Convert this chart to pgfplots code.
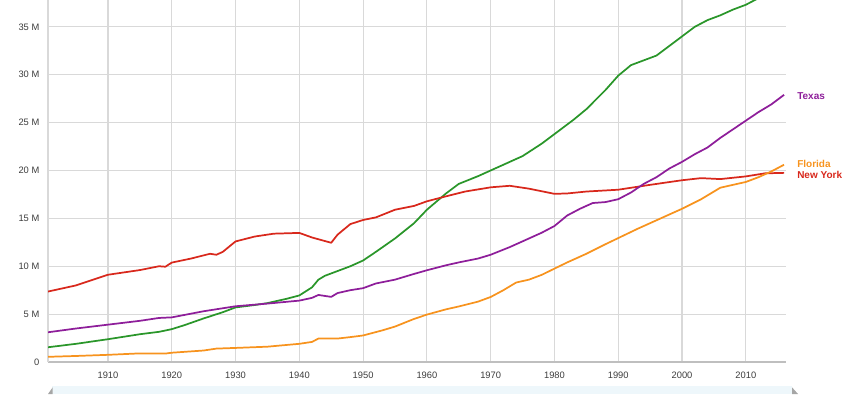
\documentclass[border=0pt]{standalone}
\usepackage{fontspec}
\setmainfont{Liberation Sans}
\usepackage{pgfplots}
\pgfplotsset{compat=1.18}
\definecolor{cagreen}{HTML}{2A962A}
\definecolor{nyred}{HTML}{D8281C}
\definecolor{txpurple}{HTML}{8E1E9A}
\definecolor{florange}{HTML}{F7931E}
\definecolor{gridgray}{HTML}{D9D9D9}
\definecolor{ticktext}{HTML}{3C3C3C}
\begin{document}
\begin{tikzpicture}
\path[use as bounding box] (-36pt,-24pt) rectangle (609pt,271.5pt);
\begin{axis}[
  at={(0,0)}, anchor=origin,
  scale only axis,
  width=553.5pt, height=271.5pt,
  xmin=1900.6, xmax=2016.3,
  ymin=0, ymax=37.8,
  axis lines=left,
  axis line style={-, draw=gridgray, line width=1pt},
  x axis line style={draw=black!25},
  grid=major,
  major grid style={draw=gridgray, line width=0.9pt},
  major tick length=0pt,
  xtick={1910,1920,...,2010},
  xticklabels={1910,1920,1930,1940,1950,1960,1970,1980,1990,2000,2010},
  ytick={0,5,10,15,20,25,30,35},
  yticklabels={0,5 M,10 M,15 M,20 M,25 M,30 M,35 M},
  tick label style={font=\fontsize{7}{8}\selectfont, text=ticktext},
  /pgf/number format/assume math mode=true,
  xticklabel style={yshift=-4pt},
  yticklabel style={xshift=-3pt},
  clip=true,
  every axis plot/.append style={line width=1.3pt, line join=round},
]
% California
\addplot[cagreen] coordinates {
(1900,1.49)(1905,1.90)(1910,2.38)(1915,2.90)(1918,3.15)(1920,3.43)(1922,3.85)(1925,4.55)(1928,5.20)(1930,5.70)(1933,5.95)(1935,6.15)(1938,6.60)(1940,6.95)(1942,7.80)(1943,8.60)(1944,9.00)(1946,9.50)(1948,10.00)(1950,10.60)(1952,11.50)(1955,12.90)(1958,14.50)(1960,15.90)(1963,17.60)(1965,18.60)(1968,19.40)(1970,20.00)(1972,20.60)(1975,21.50)(1978,22.80)(1980,23.80)(1983,25.30)(1985,26.40)(1988,28.40)(1990,29.90)(1992,31.00)(1994,31.50)(1996,32.00)(1998,33.00)(2000,34.00)(2002,35.00)(2004,35.70)(2006,36.20)(2008,36.80)(2010,37.30)(2012,38.00)(2014,38.70)(2016,39.20)
};
% New York
\addplot[nyred] coordinates {
(1900,7.27)(1905,8.00)(1910,9.11)(1915,9.60)(1918,10.00)(1919,9.95)(1920,10.38)(1923,10.80)(1926,11.30)(1927,11.20)(1928,11.50)(1930,12.59)(1933,13.10)(1936,13.40)(1940,13.48)(1942,13.00)(1945,12.45)(1946,13.30)(1948,14.40)(1950,14.83)(1952,15.10)(1955,15.90)(1958,16.30)(1960,16.78)(1963,17.30)(1966,17.80)(1970,18.24)(1973,18.40)(1976,18.10)(1980,17.56)(1982,17.60)(1985,17.80)(1990,17.99)(1995,18.50)(2000,18.98)(2003,19.20)(2006,19.10)(2010,19.38)(2013,19.70)(2016,19.75)
};
% Texas
\addplot[txpurple] coordinates {
(1900,3.05)(1905,3.50)(1910,3.90)(1915,4.30)(1918,4.60)(1920,4.66)(1925,5.30)(1930,5.82)(1935,6.10)(1940,6.41)(1942,6.70)(1943,7.00)(1944,6.90)(1945,6.80)(1946,7.20)(1948,7.50)(1950,7.71)(1952,8.20)(1955,8.60)(1958,9.20)(1960,9.58)(1963,10.10)(1965,10.40)(1968,10.80)(1970,11.20)(1973,12.00)(1975,12.60)(1978,13.50)(1980,14.20)(1982,15.30)(1984,16.00)(1986,16.60)(1988,16.70)(1990,17.00)(1992,17.70)(1994,18.60)(1996,19.30)(1998,20.20)(2000,20.90)(2002,21.70)(2004,22.40)(2006,23.40)(2008,24.30)(2010,25.20)(2012,26.10)(2014,26.90)(2016,27.90)
};
% Florida
\addplot[florange] coordinates {
(1900,0.53)(1905,0.63)(1910,0.75)(1915,0.90)(1919,0.88)(1920,0.97)(1925,1.20)(1927,1.40)(1930,1.47)(1935,1.60)(1940,1.90)(1942,2.10)(1943,2.45)(1946,2.45)(1948,2.60)(1950,2.77)(1953,3.30)(1955,3.70)(1958,4.50)(1960,4.95)(1963,5.50)(1965,5.80)(1968,6.30)(1970,6.79)(1972,7.50)(1974,8.30)(1976,8.60)(1978,9.10)(1980,9.75)(1982,10.40)(1985,11.30)(1988,12.30)(1990,12.94)(1993,13.90)(1996,14.80)(2000,16.00)(2003,17.00)(2006,18.20)(2008,18.50)(2010,18.80)(2012,19.30)(2014,19.90)(2016,20.60)
};
\end{axis}
% end labels
\begin{scope}[every node/.style={anchor=west, inner sep=0pt, font=\fontsize{7.5}{8}\selectfont\bfseries}]
\node[text=txpurple] at (561.75pt,199.5pt) {Texas};
\node[text=florange] at (561.75pt,148.5pt) {Florida};
\node[text=nyred] at (561.75pt,140.0pt) {New York};
\end{scope}
% scrollbar strip below the chart
\fill[fill={rgb,255:red,238;green,247;blue,251}] (3pt,-24pt) rectangle (558pt,-18pt);
\fill[black!35] (0pt,-24pt) -- (3.5pt,-24pt) -- (3.5pt,-19pt) -- cycle;
\fill[black!35] (558pt,-24pt) -- (562.5pt,-24pt) -- (558pt,-19pt) -- cycle;
\end{tikzpicture}
\end{document}
